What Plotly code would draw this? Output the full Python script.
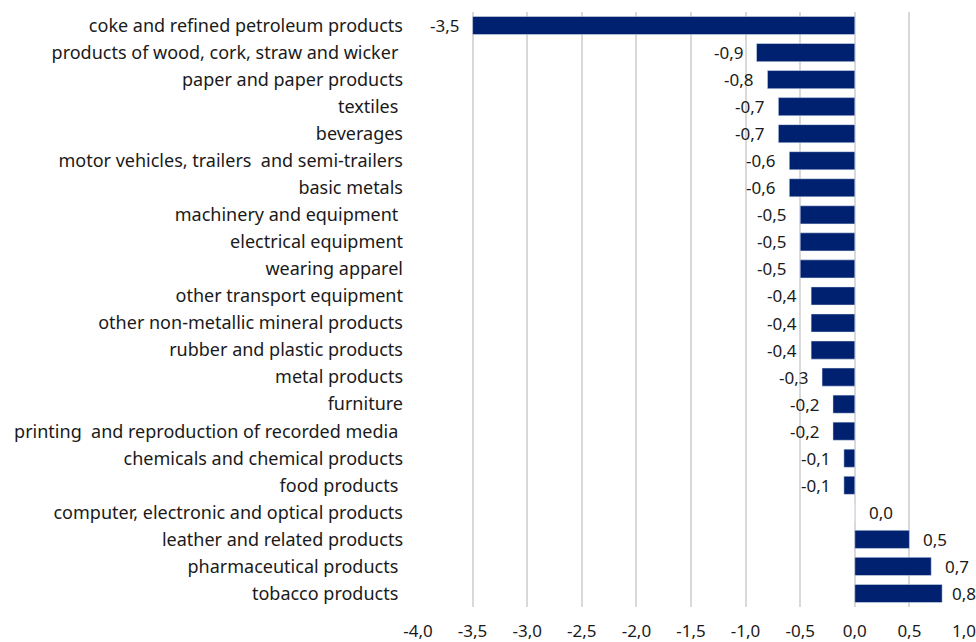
import plotly.graph_objects as go

# --- Data ---
industries = [
    'coke and refined petroleum products',
    'products of wood, cork, straw and wicker ',
    'paper and paper products',
    'textiles ',
    'beverages',
    'motor vehicles, trailers  and semi-trailers',
    'basic metals',
    'machinery and equipment ',
    'electrical equipment',
    'wearing apparel',
    'other transport equipment',
    'other non-metallic mineral products',
    'rubber and plastic products',
    'metal products',
    'furniture',
    'printing  and reproduction of recorded media ',
    'chemicals and chemical products',
    'food products ',
    'computer, electronic and optical products',
    'leather and related products',
    'pharmaceutical products ',
    'tobacco products ',
]
changes = [-3.5, -0.9, -0.8, -0.7, -0.7, -0.6, -0.6, -0.5, -0.5, -0.5, -0.4,
           -0.4, -0.4, -0.3, -0.2, -0.2, -0.1, -0.1, 0.0, 0.5, 0.7, 0.8]
tick_vals = [-4.0, -3.5, -3.0, -2.5, -2.0, -1.5, -1.0, -0.5, 0.0, 0.5, 1.0]


def fmt(v):
    return f'{v:.1f}'.replace('.', ',')


fig = go.Figure(go.Bar(
    x=changes,
    y=industries,
    orientation='h',
    marker_color='#002070',
))

# value labels placed just outside the bar ends
for name, v in zip(industries, changes):
    if v < 0:
        anchor, shift = 'right', -12
    else:
        # the longest bar sits close to the edge, so its label is tucked in
        anchor, shift = 'left', (8 if v >= 0.8 else 12)
    fig.add_annotation(
        x=v, y=name, text=fmt(v), showarrow=False,
        xanchor=anchor, xshift=shift,
        font=dict(size=17, color='#1a1a1a'),
    )

fig.update_layout(
    width=976,
    height=642,
    margin=dict(l=418, r=12, t=12, b=35),
    plot_bgcolor='white',
    paper_bgcolor='white',
    font=dict(family='Noto Sans', size=17, color='#1a1a1a'),
    bargap=0.33,
    showlegend=False,
)
fig.update_xaxes(
    range=[-4.0, 1.0],
    tickvals=tick_vals,
    ticktext=[fmt(v) for v in tick_vals],
    showgrid=True,
    gridcolor='#d9d9d9',
    gridwidth=2,
    zeroline=False,
    ticks='',
    ticklabelstandoff=12,
    ticklabeloverflow='allow',
    automargin=False,
)
fig.update_yaxes(
    autorange='reversed',
    showgrid=False,
    ticks='',
    ticklabelstandoff=14,
    tickfont=dict(size=18),
    automargin=False,
)

# drop the default page margin so the figure fills the window exactly
fig.write_html(
    'out.html',
    config={'displayModeBar': False},
    post_script="document.body.style.margin='0';document.body.style.overflow='hidden';",
)
